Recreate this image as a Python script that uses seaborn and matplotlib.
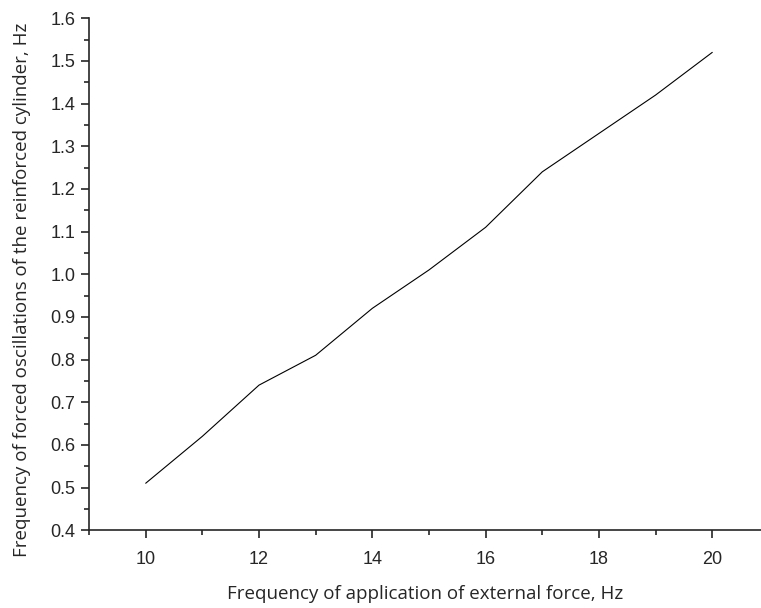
import numpy as np
import pandas as pd
import matplotlib
matplotlib.use("Agg")
import matplotlib.pyplot as plt
from matplotlib.ticker import MultipleLocator
import seaborn as sns

# DATA

force_freq = [10, 11, 12, 13, 14, 15, 16, 17, 18, 19, 20]
cyl_freq = [0.51, 0.62, 0.74, 0.81, 0.92, 1.01, 1.11, 1.24, 1.33, 1.42, 1.52]

x_label = "Frequency of application of external force, Hz"
y_label = "Frequency of forced oscillations of the reinforced cylinder, Hz"

df = pd.DataFrame({"x": force_freq, "y": cyl_freq})

# PLOT

sns.set_style("ticks")
plt.rcParams["font.family"] = ["Liberation Sans", "DejaVu Sans"]

fig = plt.figure(figsize=(7.61, 6.08), dpi=100)
ax = fig.add_axes([0.117, 0.128, 0.883, 0.842])

sns.lineplot(data=df, x="x", y="y", color="black", linewidth=0.8, ax=ax)

ax.set_xlim(9, 20.86)
ax.set_ylim(0.4, 1.6)
ax.xaxis.set_major_locator(MultipleLocator(2))
ax.xaxis.set_minor_locator(MultipleLocator(1))
ax.yaxis.set_major_locator(MultipleLocator(0.1))
ax.yaxis.set_minor_locator(MultipleLocator(0.05))
ax.yaxis.set_major_formatter(matplotlib.ticker.FormatStrFormatter("%.1f"))

for side in ["top", "right"]:
    ax.spines[side].set_visible(False)
for side in ["left", "bottom"]:
    ax.spines[side].set_linewidth(1.2)

ax.tick_params(which="major", direction="out", length=6, width=1.2, labelsize=13)
ax.tick_params(which="minor", direction="out", length=3.5, width=1.2)
ax.tick_params(axis="x", pad=9)
ax.tick_params(axis="y", pad=4)

ax.set_xlabel(x_label, family="Open Sans", fontsize=13.5, labelpad=12)
ax.set_ylabel(y_label, family="Open Sans", fontsize=13.5)
ax.yaxis.set_label_coords(-0.086, 0.469)

fig.savefig("out.png", dpi=100)
plt.close()
